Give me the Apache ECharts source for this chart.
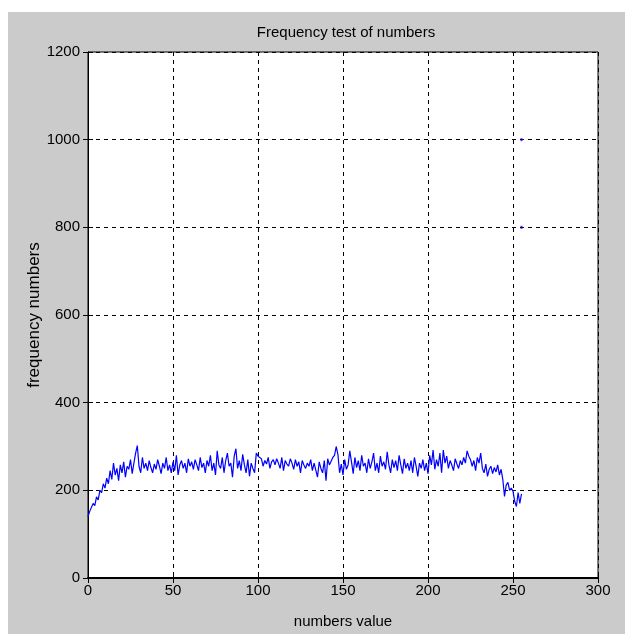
<!DOCTYPE html>
<html>
<head>
<meta charset="utf-8">
<script src="https://cdn.jsdelivr.net/npm/echarts@6/dist/echarts.min.js"></script>
<style>
    html, body { margin: 0; padding: 0; background: #fff; }
    #bg { position: absolute; left: 8px; top: 12px; width: 617px; height: 622px; background: #cbcbcb; }
    #chart { position: absolute; left: 0; top: 0; width: 625px; height: 635px; }
</style>
</head>
<body>
<div id="bg"></div>
<div id="chart"></div>
<script>
// frequency of each value 0..255
var counts = [
    140, 152, 148, 170, 165, 185, 178, 200, 195, 215,
    205, 228, 215, 245, 225, 262, 235, 250, 222, 258,
    240, 265, 230, 255, 248, 270, 238, 262, 285, 302,
    255, 240, 275, 250, 262, 245, 268, 252, 240, 260,
    248, 270, 255, 238, 262, 250, 275, 245, 258, 240,
    265, 245, 280, 235, 258, 268, 250, 262, 240, 272,
    255, 265, 248, 270, 258, 245, 275, 252, 262, 240,
    268, 255, 280, 245, 262, 235, 290, 258, 250, 275,
    240, 268, 285, 255, 262, 230, 278, 295, 250, 268,
    245, 282, 258, 240, 270, 232, 262, 250, 240, 285,
    278, 275, 272, 255, 268, 260, 275, 250, 265, 270,
    258, 272, 262, 250, 275, 245, 268, 260, 255, 272,
    262, 248, 270, 255, 265, 240, 268, 258, 250, 262,
    255, 270, 245, 262, 258, 230, 265, 250, 240, 268,
    222, 272, 258, 262, 275, 280, 300, 282, 240, 260,
    235, 270, 248, 258, 290, 265, 238, 275, 252, 268,
    245, 280, 255, 262, 240, 272, 250, 265, 285, 245,
    262, 240, 278, 255, 265, 248, 288, 258, 240, 270,
    252, 268, 245, 280, 258, 238, 272, 250, 262, 245,
    268, 240, 275, 255, 232, 262, 250, 270, 245, 262,
    238, 280, 258, 292, 248, 270, 255, 285, 240, 292,
    262, 278, 250, 268, 258, 245, 272, 260, 250, 268,
    258, 275, 262, 290, 278, 270, 255, 268, 245, 275,
    262, 285, 250, 240, 260, 232, 248, 255, 238, 252,
    242, 258, 235, 248, 225, 186, 212, 218, 200, 205,
    198, 175, 163, 195, 170, 192
];
// stray marks near x=255
var strayX = [255, 255];
var strayY = [1000, 800];

var font = "'Liberation Sans', Arial, sans-serif";

var lineData = [];
for (var i = 0; i < counts.length; i++) {
    lineData.push([i, counts[i]]);
}
var strayData = [];
for (var j = 0; j < strayX.length; j++) {
    strayData.push([strayX[j], strayY[j]]);
}

var myChart = echarts.init(document.getElementById('chart'));

var gridLine = { show: true, lineStyle: { color: '#000', type: [4, 4], width: 1 } };

option = {
    animation: false,
    title: {
        text: 'Frequency test of numbers',
        left: 341,
        textAlign: 'center',
        top: 20,
        textStyle: { fontFamily: font, fontSize: 15, fontWeight: 'normal', color: '#000' }
    },
    grid: {
        left: 88, right: 27, top: 52, bottom: 57,
        show: true, backgroundColor: '#fff', borderColor: '#000', borderWidth: 1
    },
    xAxis: [
        {
            type: 'value', min: 0, max: 300, interval: 50,
            name: 'numbers value', nameLocation: 'middle', nameGap: 36,
            nameMoveOverlap: false,
            nameTextStyle: { fontFamily: font, fontSize: 15, color: '#000' },
            axisLine: { lineStyle: { color: '#000' } },
            axisTick: { inside: true, length: 5, lineStyle: { color: '#000' } },
            axisLabel: { fontFamily: font, fontSize: 15, color: '#000', margin: 5 },
            splitLine: gridLine
        },
        {
            type: 'value', min: 0, max: 300, interval: 50, position: 'top',
            axisLine: { lineStyle: { color: '#000', width: 2 } },
            axisTick: { inside: true, length: 5, lineStyle: { color: '#000' } },
            axisLabel: { show: false },
            splitLine: { show: false }
        }
    ],
    yAxis: [
        {
            type: 'value', min: 0, max: 1200, interval: 200,
            name: 'frequency numbers', nameLocation: 'middle', nameGap: 45,
            nameMoveOverlap: false,
            nameTextStyle: { fontFamily: font, fontSize: 17, color: '#000' },
            axisLine: { show: true, lineStyle: { color: '#000' } },
            axisTick: { show: true, inside: true, length: 5, lineStyle: { color: '#000' } },
            axisLabel: {
                fontFamily: font, fontSize: 15, color: '#000', margin: 8,
                formatter: function (v) { return String(v); }
            },
            splitLine: gridLine
        },
        {
            type: 'value', min: 0, max: 1200, interval: 200, position: 'right',
            axisLine: { show: true, lineStyle: { color: '#000' } },
            axisTick: { show: true, inside: true, length: 5, lineStyle: { color: '#000' } },
            axisLabel: { show: false },
            splitLine: { show: false }
        }
    ],
    series: [
        {
            type: 'line',
            data: lineData,
            showSymbol: false,
            lineStyle: { color: '#0000ff', width: 1.2 },
            z: 3
        },
        {
            type: 'scatter',
            data: strayData,
            symbol: 'rect',
            symbolSize: [2, 3],
            itemStyle: { color: '#0000ff' },
            z: 3
        }
    ]
};
myChart.setOption(option);
</script>
</body>
</html>
